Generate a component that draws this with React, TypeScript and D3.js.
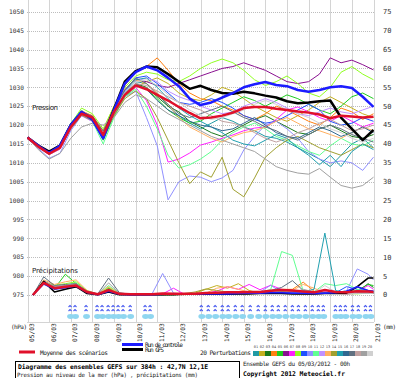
import React from 'react';
import * as d3 from 'd3';

// ---------- DATA ----------
const pressureTicks = [975, 980, 985, 990, 995, 1000, 1005, 1010, 1015, 1020, 1025, 1030, 1035, 1040, 1045, 1050];
const precipTicks = [0, 5, 10, 15, 20, 25, 30, 35, 40, 45, 50, 55, 60, 65, 70, 75];
const dateLabels = ['05/03', '06/03', '07/03', '08/03', '09/03', '10/03', '11/03', '12/03', '13/03', '14/03', '15/03', '16/03', '17/03', '18/03', '19/03', '20/03', '21/03'];

// pressure, every 12h from 05/03 00h (33 steps)
const meanP = [1016.7, 1014.3, 1012.4, 1014, 1019.5, 1023, 1022, 1017.4, 1023.5, 1028, 1030.5, 1029.5, 1028, 1026.5, 1024.8, 1023.2, 1021.8, 1022, 1022.5, 1023.3, 1024.5, 1024.8, 1024.8, 1024.3, 1024, 1023.6, 1023.3, 1022.8, 1021.8, 1022.5, 1022.3, 1022, 1022.2];
const controlP = [1016.7, 1014.5, 1012.6, 1014.5, 1020, 1023.5, 1021.5, 1016.5, 1024, 1031, 1034, 1035.5, 1034.5, 1032.5, 1030.3, 1027, 1025.3, 1026, 1027.3, 1028.5, 1030, 1030.8, 1031.4, 1030.6, 1030.3, 1029.3, 1028.8, 1029.3, 1030, 1030.3, 1029.8, 1027.5, 1024.8];
const gfsP = [1016.7, 1014.6, 1013, 1014.6, 1020, 1023.4, 1021.6, 1016.8, 1024.2, 1031.5, 1034.3, 1035.5, 1035.3, 1033.5, 1031.5, 1029.6, 1030.4, 1029.3, 1028.5, 1028.3, 1028.8, 1028.4, 1027.8, 1027.3, 1026.3, 1025.8, 1026, 1026.3, 1026.5, 1022, 1019, 1016, 1018.7];

const p01 = [1016.7, 1014.5, 1012.6, 1014.3, 1019.8, 1023.2, 1022, 1017.8, 1024, 1029, 1031.5, 1031, 1028.5, 1025, 1022.5, 1020.5, 1019, 1020.5, 1022, 1021, 1019.5, 1018.5, 1017, 1016.5, 1015.5, 1014, 1012.5, 1011, 1009, 1012, 1015, 1016.5, 1014];
const p02 = [1016.7, 1014.2, 1012.2, 1013.8, 1019.2, 1022.8, 1021.8, 1017, 1023, 1027.5, 1030, 1031.5, 1032.5, 1031, 1028.5, 1027, 1026.5, 1028, 1030, 1029, 1027, 1025, 1023.5, 1022, 1021, 1022.5, 1024, 1026, 1027.5, 1026, 1024.5, 1023, 1022];
const p03 = [1016.7, 1014.4, 1012.5, 1014.2, 1019.6, 1023.3, 1021.5, 1016.5, 1023, 1028.5, 1031, 1030, 1027.5, 1025, 1023.5, 1021, 1019.5, 1018, 1017, 1018.5, 1020, 1021.5, 1022.5, 1021, 1019.5, 1018, 1017.5, 1019, 1020, 1018.5, 1017, 1016.5, 1017.5];
const p04 = [1016.7, 1014.6, 1012.8, 1014.8, 1020.2, 1023.6, 1022.5, 1018.5, 1025, 1030.5, 1034, 1035.5, 1037.8, 1034.5, 1031, 1028.5, 1027, 1026.5, 1025, 1024, 1022.5, 1021.5, 1023, 1025, 1024, 1022.5, 1021, 1020, 1022, 1024.5, 1023.5, 1021.5, 1023];
const p05 = [1016.7, 1014.3, 1012.3, 1014, 1019.5, 1023, 1021.5, 1016, 1022.5, 1027.5, 1030.5, 1029.5, 1027, 1024, 1022, 1020.5, 1021, 1023, 1024.5, 1026, 1027.5, 1026.5, 1025, 1026.5, 1028, 1027, 1025.5, 1024, 1023, 1025, 1027.5, 1028.5, 1027];
const p06 = [1016.7, 1014.5, 1012.6, 1014.4, 1020, 1023.5, 1022.3, 1018, 1024.5, 1029.5, 1032, 1031.5, 1030.5, 1030, 1031, 1032, 1033, 1034, 1035, 1035.5, 1036.5, 1035.5, 1034.5, 1033, 1031.5, 1031, 1031.5, 1033.5, 1037.8, 1036.5, 1037.2, 1036, 1034.6];
const p07 = [1016.7, 1014.2, 1012.2, 1013.6, 1019, 1022.5, 1021, 1016.5, 1023, 1028, 1030, 1026.5, 1020, 1010.2, 1011, 1012.6, 1014.7, 1015.5, 1016.5, 1017.4, 1018.5, 1019.2, 1019.5, 1021.5, 1024, 1024.8, 1023.5, 1022, 1021, 1022.5, 1021, 1019.5, 1020.5];
const p08 = [1016.7, 1014.6, 1012.9, 1014.6, 1020.3, 1024.5, 1023, 1019, 1025, 1030, 1033, 1034, 1033.5, 1032, 1031.5, 1033, 1035, 1036.5, 1037.5, 1036.5, 1034.5, 1032, 1030.5, 1031.5, 1033, 1031, 1028.5, 1027.5, 1030, 1034, 1035.5, 1033.5, 1032];
const p09 = [1016.7, 1014.3, 1012.4, 1013.9, 1019.4, 1023, 1021.7, 1017.2, 1023.8, 1028.8, 1032.5, 1033, 1031, 1028.5, 1026, 1025.5, 1026, 1027, 1026, 1024.5, 1022.5, 1021.5, 1020.5, 1021, 1022.5, 1024, 1025.5, 1024, 1021, 1020, 1020.5, 1022, 1021];
const p10 = [1016.7, 1013.8, 1011.2, 1012.5, 1018.5, 1022.5, 1021, 1017.5, 1023, 1027.5, 1029, 1022, 1014.5, 1000.2, 1005, 1006.5, 1006.2, 1005, 1006, 1008, 1013.4, 1017, 1020, 1021, 1019, 1016.5, 1013, 1011, 1010, 1010.5, 1010, 1008, 1011.5];
const p11 = [1016.7, 1014.5, 1012.7, 1014.5, 1020.5, 1024, 1021, 1015, 1022, 1027.5, 1029.5, 1025, 1019, 1012, 1008.6, 1009.5, 1011, 1013, 1016, 1018, 1019.5, 1020.5, 1019, 1017, 1016, 1014.5, 1013, 1012, 1014.5, 1016.5, 1015, 1014.5, 1016];
const p12 = [1016.7, 1014.4, 1012.5, 1014, 1019.7, 1023.4, 1022.2, 1018, 1024.2, 1029, 1031.5, 1032.5, 1031.5, 1029, 1027.5, 1026.5, 1025, 1024, 1023, 1023.5, 1025, 1026, 1027, 1026, 1024.5, 1023, 1022.5, 1023.5, 1024.5, 1023.5, 1023, 1024, 1025];
const p13 = [1016.7, 1014.2, 1012.3, 1014.1, 1019.8, 1023.8, 1022.5, 1018.2, 1024.5, 1029.5, 1032, 1031, 1028.5, 1025.5, 1022, 1019.5, 1018, 1016.5, 1015.5, 1017, 1018, 1018.5, 1019.5, 1021, 1022, 1020.5, 1019, 1018.5, 1017.5, 1016.5, 1018, 1019.5, 1018.5];
const p14 = [1016.7, 1014.3, 1012.4, 1013.8, 1019, 1022.6, 1021.2, 1016.8, 1022.5, 1027, 1029, 1027, 1022, 1016, 1010, 1004.5, 1007.6, 1006.2, 1011.5, 1003, 1001, 1006, 1011.5, 1014, 1016, 1017, 1015.5, 1014, 1013, 1012, 1013.5, 1015, 1014];
const p15 = [1016.7, 1014.6, 1012.7, 1014.4, 1020, 1023.4, 1021.9, 1017.5, 1024, 1029.2, 1032, 1032.5, 1030, 1027, 1024.5, 1022.5, 1021, 1019.5, 1018, 1016, 1015, 1014.5, 1016, 1017.5, 1016.5, 1014, 1012, 1009.5, 1012, 1009, 1013, 1015, 1013.5];
const p16 = [1016.7, 1014.4, 1012.4, 1014, 1019.6, 1023.1, 1021.6, 1017, 1023.4, 1028.2, 1031, 1029.5, 1026.5, 1024, 1022.5, 1021, 1020, 1019.5, 1018.5, 1019, 1020.5, 1022, 1020, 1018, 1017, 1016.5, 1018, 1019.5, 1018.5, 1017, 1018, 1019.5, 1018];
const p17 = [1016.7, 1014.5, 1012.6, 1014.2, 1019.8, 1023.5, 1022.4, 1018.4, 1024.3, 1029.3, 1032.5, 1031, 1028, 1025.5, 1023, 1022, 1023, 1024, 1025, 1023.5, 1022, 1021, 1019.5, 1018.5, 1017, 1016, 1017.5, 1019, 1020, 1019, 1017.5, 1016.5, 1015.5];
const p18 = [1016.7, 1014.3, 1012.2, 1013.7, 1019.3, 1022.9, 1021.8, 1017.6, 1023.7, 1028.4, 1031, 1030.5, 1029, 1027.5, 1026, 1025, 1024, 1022.5, 1021, 1020.5, 1019.5, 1018, 1016.5, 1015.5, 1016.5, 1018, 1019, 1020.5, 1021.5, 1020, 1018.5, 1019, 1020];
const p19 = [1016.7, 1013.5, 1011, 1012.5, 1016.5, 1019.5, 1020.5, 1020, 1022, 1026, 1028, 1027, 1025, 1023, 1021.5, 1020, 1018.5, 1017, 1016, 1015, 1014, 1013, 1011, 1009, 1008, 1007.3, 1007, 1008.5, 1006.2, 1004, 1003.3, 1004, 1006.2];
const p20 = [1016.7, 1014.4, 1012.5, 1014.1, 1019.5, 1023, 1021.9, 1017.3, 1023.6, 1028.6, 1031.5, 1032, 1030.5, 1028, 1026, 1024, 1022.5, 1021.5, 1022, 1023, 1024, 1025.5, 1026.5, 1025.5, 1024, 1023, 1022, 1020.5, 1019, 1018, 1016.5, 1015.5, 1016.5];

// precipitation (mm), every 12h from 05/03 06h, plus final step
const meanR = [0, 3.2, 1.8, 2.2, 2.5, 0.8, 0.2, 1.3, 0.3, 0.2, 0.2, 0.2, 0.4, 0.3, 0.3, 0.3, 0.5, 0.6, 0.7, 0.7, 0.8, 0.8, 1.1, 1.3, 1.2, 0.9, 0.7, 1.3, 0.8, 0.7, 1.0, 0.9, 0.8];
const controlR = [0, 3, 1.6, 2, 2.4, 0.7, 0.1, 1, 0.2, 0.1, 0.1, 0.1, 0.2, 0.2, 0.2, 0.2, 0.3, 0.3, 0.3, 0.4, 0.5, 0.5, 0.6, 0.6, 0.5, 0.5, 0.4, 0.5, 0.6, 1, 2.2, 1.2, 1];
const gfsR = [0, 3.6, 0.8, 1.5, 2.2, 0.4, 0.1, 0.8, 0.1, 0.1, 0.1, 0.1, 0.1, 0.1, 0.2, 0.2, 0.2, 0.2, 0.2, 0.3, 0.3, 0.4, 0.4, 0.4, 0.3, 0.3, 0.3, 0.4, 0.4, 0.5, 2.2, 4.5, 4.5];
const r01 = [0, 3.8, 2.2, 2.5, 3, 1, 0.2, 1.5, 0.3, 0.1, 0.1, 0.1, 0.1, 0.2, 0.2, 0.3, 0.3, 0.4, 0.3, 0.5, 0.6, 0.4, 0.5, 0.8, 1.2, 0.8, 0.6, 0.7, 0.5, 0.6, 0.8, 0.5, 0.4];
const r02 = [0, 3, 1.6, 2, 2.8, 0.6, 0.1, 0.8, 0.1, 0.1, 0.1, 0.1, 0.2, 0.2, 0.3, 0.5, 1.5, 2.5, 1.8, 3, 1.2, 0.4, 0.5, 0.6, 1, 0.6, 0.4, 0.5, 0.4, 0.3, 0.5, 0.4, 0.4];
const r03 = [0, 3.2, 1.8, 2.4, 2.3, 0.7, 0.1, 1.8, 0.3, 0.1, 0.1, 0.1, 0.1, 0.2, 0.2, 0.2, 0.2, 0.3, 0.3, 0.4, 0.5, 0.6, 0.4, 0.5, 0.6, 0.5, 0.4, 0.6, 0.8, 1, 0.8, 3, 2];
const r04 = [0, 3.5, 2, 2.2, 2.6, 0.9, 0.2, 1.3, 0.2, 0.1, 0.1, 0.1, 0.1, 0.1, 0.1, 0.2, 0.3, 0.6, 0.5, 0.4, 0.6, 0.8, 1, 1.5, 1.5, 3.4, 1, 0.6, 0.5, 0.4, 0.5, 0.6, 0.5];
const r05 = [0, 3, 1.7, 5.5, 3, 1, 0.1, 1.6, 0.2, 0.1, 0.1, 0.1, 0.1, 0.1, 0.2, 0.2, 0.2, 0.2, 0.3, 0.3, 0.4, 0.5, 0.5, 0.8, 1, 0.8, 0.6, 0.5, 0.6, 0.8, 1.2, 2.8, 2.5];
const r06 = [0, 3.3, 2.1, 2.3, 2.8, 0.7, 0.1, 1, 0.2, 0.1, 0.1, 0.1, 0.1, 0.2, 0.2, 0.2, 0.2, 0.3, 0.3, 0.3, 0.4, 0.4, 0.5, 0.4, 0.4, 0.3, 0.3, 0.4, 0.4, 0.3, 0.4, 0.5, 0.4];
const r07 = [0, 3.6, 2.4, 2.6, 2.4, 0.8, 0.2, 1.5, 0.2, 0.1, 0.1, 0.2, 0.3, 1.8, 0.2, 0.3, 0.4, 1, 2.2, 1.5, 2.8, 1.4, 2.6, 1.5, 0.8, 0.6, 0.5, 0.8, 0.6, 0.5, 1, 2.5, 1.5];
const r08 = [0, 3.4, 2.6, 3, 3.5, 1.2, 0.2, 2, 0.3, 0.1, 0.1, 0.1, 0.1, 0.1, 0.2, 0.2, 0.3, 0.3, 0.2, 0.3, 0.4, 0.5, 0.6, 0.8, 0.6, 0.5, 0.5, 0.4, 0.5, 0.4, 0.3, 0.5, 0.4];
const r09 = [0, 3.1, 1.9, 2.2, 2.5, 0.8, 0.1, 1.2, 0.2, 0.1, 0.1, 0.1, 0.2, 0.2, 0.2, 0.2, 0.2, 0.3, 0.3, 0.4, 0.5, 0.6, 0.8, 0.7, 0.6, 0.5, 0.4, 0.5, 0.6, 2.2, 1.5, 1.2, 1];
const r10 = [0, 2.8, 1.5, 1.8, 2, 0.6, 0.1, 0.8, 0.1, 0.1, 0.2, 0.2, 5.7, 0.5, 0.2, 0.2, 0.3, 0.3, 0.3, 0.4, 0.5, 0.8, 2.6, 0.6, 0.5, 0.4, 0.5, 0.6, 0.8, 1, 6.9, 5.5, 4];
const r11 = [0, 3.2, 2, 2.6, 3.2, 0.9, 0.1, 2.5, 0.4, 0.1, 0.1, 0.1, 0.1, 0.1, 0.2, 0.2, 0.3, 0.3, 0.3, 0.4, 0.5, 0.6, 1.5, 11.5, 10.5, 1, 0.8, 3, 2.5, 3, 1.5, 1, 1];
const r12 = [0, 3.3, 2, 2.3, 2.7, 0.8, 0.1, 1.2, 0.2, 0.1, 0.1, 0.1, 0.1, 0.2, 0.2, 0.3, 0.3, 0.4, 0.4, 0.5, 0.5, 0.6, 0.6, 0.7, 0.6, 0.5, 0.6, 0.5, 0.4, 0.4, 0.5, 0.4, 0.5];
const r13 = [0, 4, 2.8, 3.5, 4, 1.2, 0.2, 2.2, 0.3, 0.1, 0.1, 0.1, 0.1, 0.2, 0.2, 0.3, 0.5, 1.8, 2.2, 1.5, 0.8, 0.6, 0.5, 0.7, 1.2, 2.8, 1.8, 0.6, 0.5, 0.4, 0.5, 0.4, 0.4];
const r14 = [0, 3.3, 2.2, 2.1, 2.4, 0.6, 0.1, 1.5, 0.2, 0.1, 0.2, 0.2, 0.2, 0.3, 0.4, 0.8, 1.6, 1.2, 0.8, 0.5, 0.6, 0.6, 0.5, 0.6, 0.5, 0.6, 0.5, 0.4, 0.5, 0.6, 0.5, 0.5, 0.5];
const r15 = [0, 3, 1.7, 2, 2.2, 0.7, 0.1, 1.1, 0.2, 0.1, 0.1, 0.1, 0.1, 0.2, 0.2, 0.2, 0.3, 0.3, 0.4, 0.5, 0.6, 0.5, 0.6, 0.8, 0.7, 0.9, 1.5, 16.4, 1.2, 0.6, 0.5, 0.5, 0.5];
const r16 = [0, 3.4, 2, 2.4, 2.6, 0.8, 0.1, 1.3, 0.2, 0.1, 0.1, 0.1, 0.1, 0.2, 0.2, 0.2, 0.3, 0.3, 0.4, 0.4, 0.5, 0.5, 0.6, 0.5, 0.5, 0.6, 0.7, 0.6, 0.5, 0.5, 0.6, 0.6, 0.5];
const r17 = [0, 4.8, 2.5, 2.8, 3, 1, 0.3, 4.5, 0.6, 0.2, 0.1, 0.1, 0.1, 0.2, 0.2, 0.2, 0.3, 0.3, 0.4, 0.4, 0.6, 0.8, 1.2, 2, 3.8, 1.2, 0.8, 0.6, 0.5, 0.4, 0.5, 0.5, 0.4];
const r18 = [0, 3.5, 2.1, 2.4, 2.6, 0.8, 0.1, 1.4, 0.2, 0.1, 0.1, 0.1, 0.1, 0.1, 0.2, 0.2, 0.2, 0.3, 0.3, 0.3, 0.4, 0.5, 0.5, 0.5, 0.6, 0.5, 0.5, 0.6, 0.5, 0.5, 0.4, 0.5, 0.5];
const r19 = [0, 3.6, 2.3, 2.5, 2.9, 0.8, 0.2, 3.2, 0.4, 0.1, 0.1, 0.1, 0.2, 0.2, 0.2, 0.2, 0.3, 0.3, 0.3, 0.4, 0.4, 0.5, 0.7, 0.8, 0.6, 1.5, 0.8, 0.6, 0.5, 0.5, 0.6, 0.5, 0.5];
const r20 = [0, 3.1, 1.9, 2.2, 2.5, 0.7, 0.1, 1.1, 0.2, 0.1, 0.1, 0.1, 0.1, 0.2, 0.2, 0.2, 0.2, 0.3, 0.3, 0.3, 0.4, 0.4, 0.5, 0.6, 0.6, 0.7, 0.6, 2.5, 0.8, 0.5, 0.5, 0.5, 0.4];

const memberColors = ['#1f9aa4', '#c4b020', '#1a7a1a', '#ff8010', '#20cc20', '#8a1090', '#ff20ff', '#90ff20', '#2050ff', '#9090ff', '#60ff90', '#c090ff', '#ffb060', '#a0a030', '#20a0b0', '#306890', '#607080', '#c0a0a0', '#a0a0a0', '#d0d0d0'];
const memberNames = ['01', '02', '03', '04', '05', '06', '07', '08', '09', '10', '11', '12', '13', '14', '15', '16', '17', '18', '19', '20'];

// weather symbol times (days after 05/03 00h)
const symbolDays = [1.99, 2.22, 2.73, 3.24, 3.47, 3.75, 3.98, 4.21, 4.44, 4.77, 5.46, 5.69, 8.06, 8.38, 8.7, 9.03, 9.3, 9.63, 9.95, 10.32, 10.69, 11.02, 11.34, 11.62, 11.94, 12.27, 12.55, 12.87, 13.19, 13.47, 13.7, 14.26, 14.49, 14.72, 15.05, 15.32, 15.65, 15.88];

// ---------- CHART ----------
const pMembers = [p01, p02, p03, p04, p05, p06, p07, p08, p09, p10, p11, p12, p13, p14, p15, p16, p17, p18, p19, p20];
const rMembers = [r01, r02, r03, r04, r05, r06, r07, r08, r09, r10, r11, r12, r13, r14, r15, r16, r17, r18, r19, r20];
const pDays = meanP.map((_, i) => i * 0.5);
const rDays = d3.range(32).map((j) => 0.25 + 0.5 * j).concat([16]);

const FONT = '"DejaVu Sans Mono", monospace';

export default function App() {
  const x = d3.scaleLinear().domain([0, 16]).range([27.5, 373.5]);
  const y = d3.scaleLinear().domain([975, 1050]).range([295, 11.8]);
  const yr = d3.scaleLinear().domain([0, 75]).range([295, 11.8]);

  const pLine = d3.line<number>().x((_, i) => x(pDays[i])).y((v) => y(v));
  const rLine = d3.line<number>().x((_, i) => x(rDays[i])).y((v) => yr(v));

  const swX = d3.scaleBand<string>().domain(memberNames).range([253, 373]).padding(0);

  return (
    <svg width={400} height={378} style={{ position: 'absolute', left: 0, top: 0, background: '#fff' }} fontFamily={FONT}>
      <rect x={0} y={0} width={400} height={378} fill="#fff" />
      {/* vertical grid */}
      {dateLabels.map((_, i) => (
        <line key={'vg' + i} x1={Math.round(x(i)) + 0.5} x2={Math.round(x(i)) + 0.5} y1={0} y2={322} stroke="#d4d4d4" strokeWidth={1} />
      ))}
      {/* horizontal dotted grid */}
      {pressureTicks.map((v) => (
        <line key={'hg' + v} x1={27} x2={374} y1={Math.round(y(v)) + 0.5} y2={Math.round(y(v)) + 0.5} stroke="#bdbdbd" strokeWidth={1} strokeDasharray="1,1" />
      ))}
      <line x1={27} x2={374} y1={322.5} y2={322.5} stroke="#d4d4d4" />
      {/* left ticks */}
      {pressureTicks.map((v) => (
        <text key={'lt' + v} x={24} y={y(v) + 2.2} fontSize={6.2} textAnchor="end" fill="#333">{v}</text>
      ))}
      {/* right ticks */}
      {precipTicks.map((v) => (
        <text key={'rt' + v} x={383} y={yr(v) + 2.4} fontSize={7} fill="#333">{v}</text>
      ))}
      <text x={32} y={109.5} fontSize={7} fill="#222" fontFamily='"DejaVu Sans", sans-serif' textLength={26}>Pression</text>
      <text x={32} y={272.5} fontSize={7} fill="#222" fontFamily='"DejaVu Sans", sans-serif' textLength={46}>Précipitations</text>

      <clipPath id="plotclip"><rect x={27} y={0} width={347} height={300} /></clipPath>
      <g clipPath="url(#plotclip)" fill="none" strokeLinejoin="round">
        {/* members pressure */}
        {pMembers.map((s, k) => (
          <path key={'pm' + k} d={pLine(s) || ''} stroke={memberColors[k]} strokeWidth={1} />
        ))}
        {/* members precip */}
        {rMembers.map((s, k) => (
          <path key={'rm' + k} d={rLine(s) || ''} stroke={memberColors[k]} strokeWidth={1} />
        ))}
        <path d={pLine(gfsP) || ''} stroke="#000" strokeWidth={2.5} />
        <path d={pLine(controlP) || ''} stroke="#1c1cff" strokeWidth={2.5} />
        <path d={pLine(meanP) || ''} stroke="#e0102a" strokeWidth={2.5} />
        <path d={rLine(gfsR) || ''} stroke="#000" strokeWidth={1.6} />
        <path d={rLine(controlR) || ''} stroke="#1c1cff" strokeWidth={1.6} />
        <path d={rLine(meanR) || ''} stroke="#e0102a" strokeWidth={2.5} />
      </g>

      {/* weather symbols */}
      {symbolDays.map((d, i) => {
        const cx = x(d);
        return (
          <g key={'sym' + i}>
            <ellipse cx={cx} cy={316.5} rx={3.4} ry={2.4} fill="#8fd6f0" />
            <path d={`M${cx - 2},${307} l1.5,-1.5 l1.5,1.5 M${cx - 2},${311} l1.5,-1.5 l1.5,1.5`} stroke="#4a5cf0" strokeWidth={1.1} fill="none" />
          </g>
        );
      })}

      {/* date labels */}
      {dateLabels.map((lab, i) => (
        <text key={'dl' + i} transform={`translate(${x(i) + 6.5},342) rotate(-90)`} fontSize={6.2} fill="#222">{lab}</text>
      ))}
      <text x={11} y={328.5} fontSize={6} fill="#222" textLength={16}>(hPa)</text>
      <text x={383} y={328.5} fontSize={6} fill="#222" textLength={13}>(mm)</text>

      {/* legend */}
      <line x1={19} x2={35} y1={352} y2={352} stroke="#e0102a" strokeWidth={3} />
      <text x={40} y={354.5} fontSize={6.2} fill="#222" textLength={68}>Moyenne des scénarios</text>
      <line x1={122} x2={143} y1={344.5} y2={344.5} stroke="#1c1cff" strokeWidth={3} />
      <text x={145} y={346.5} fontSize={6.2} fill="#222" textLength={38}>Run de controle</text>
      <line x1={122} x2={143} y1={349.5} y2={349.5} stroke="#000" strokeWidth={3} />
      <text x={145} y={352} fontSize={6.2} fill="#222" textLength={19}>Run GFS</text>
      <text x={200} y={355} fontSize={6.2} fill="#222" textLength={51}>20 Perturbations</text>
      {memberNames.map((n, k) => (
        <g key={'sw' + n}>
          <rect x={swX(n)} y={351} width={swX.bandwidth()} height={5} fill={memberColors[k]} />
          <text x={(swX(n) || 0) + swX.bandwidth() / 2} y={348} fontSize={3.6} textAnchor="middle" fill="#444">{n}</text>
        </g>
      ))}

      {/* bottom box */}
      <rect x={15.5} y={361.5} width={224} height={20} fill="none" stroke="#000" strokeWidth={1} />
      <text x={18} y={369} fontSize={6.4} fontWeight="bold" fill="#000" textLength={190}>Diagramme des ensembles GEFS sur 384h : 42,7N 12,1E</text>
      <text x={17} y={376.5} fontSize={5.8} fill="#222" textLength={181}>Pression au niveau de la mer (hPa) , précipitations (mm)</text>
      <text x={243} y={365.5} fontSize={6} fill="#222" textLength={107}>Ensemble GEFS du 05/03/2012 - 00h</text>
      <text x={243} y={376} fontSize={6.4} fontWeight="bold" fill="#000" textLength={102}>Copyright 2012 Meteociel.fr</text>
    </svg>
  );
}
